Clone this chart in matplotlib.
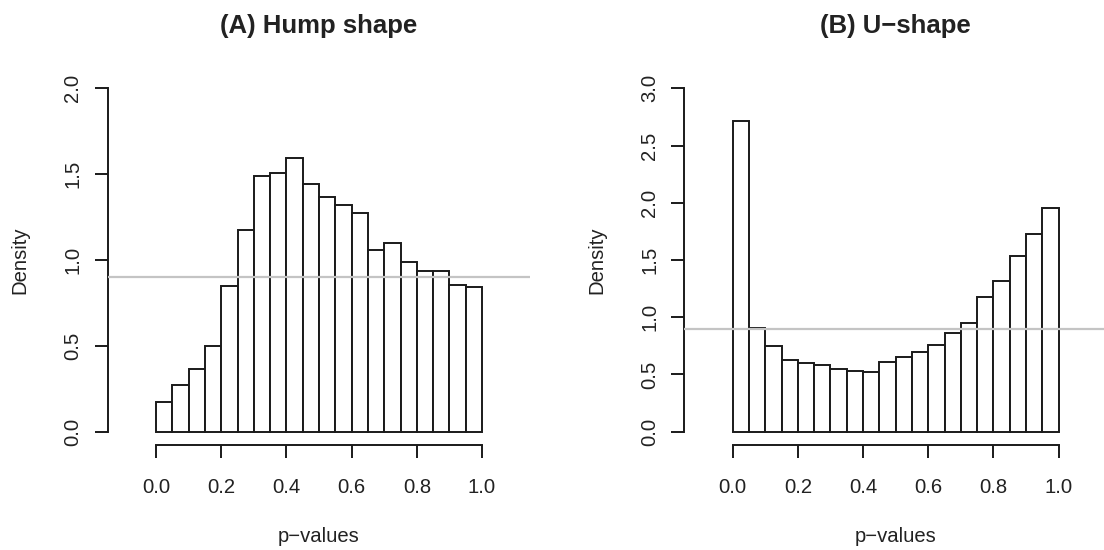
import numpy as np
import matplotlib
matplotlib.use("Agg")
import matplotlib.pyplot as plt

plt.rcParams['font.family'] = ['Liberation Sans', 'DejaVu Sans']

# ---- data ----
bin_edges = [round(0.05 * i, 2) for i in range(21)]
hump_density = [0.175, 0.272, 0.367, 0.497, 0.850, 1.175, 1.487, 1.505, 1.592, 1.443,
                1.367, 1.322, 1.272, 1.056, 1.101, 0.986, 0.938, 0.934, 0.852, 0.843]
ushape_density = [2.717, 0.909, 0.749, 0.626, 0.600, 0.585, 0.551, 0.527, 0.524, 0.612,
                  0.652, 0.699, 0.754, 0.865, 0.950, 1.180, 1.320, 1.538, 1.727, 1.957]
ref_line = 0.9
titles = ["(A) Hump shape", "(B) U\u2212shape"]
xlabel = "p\u2212values"
ylabel = "Density"
x_ticks = [0.0, 0.2, 0.4, 0.6, 0.8, 1.0]
y_ticks_a = [0.0, 0.5, 1.0, 1.5, 2.0]
y_ticks_b = [0.0, 0.5, 1.0, 1.5, 2.0, 2.5, 3.0]

W, H = 1104, 550
fig = plt.figure(figsize=(W / 100, H / 100), dpi=100)

TXT = '#222222'
LW = 1.4
FS = 14.6

def panel(left_px, heights, yticks, title):
    bottom_px, top_px = 445.4, 74.6
    width_px = 422.5
    ax = fig.add_axes([left_px / W, 1 - bottom_px / H, width_px / W, (bottom_px - top_px) / H])
    ymax = yticks[-1]
    ax.set_xlim(-0.148, 1.148)
    ax.set_ylim(-0.04 * ymax, ymax * 1.04)
    lefts = bin_edges[:-1]
    widths = [b - a for a, b in zip(bin_edges[:-1], bin_edges[1:])]
    ax.bar(lefts, heights, width=widths, align='edge', facecolor='white',
           edgecolor='#1a1a1a', linewidth=LW, zorder=2)
    ax.axhline(ref_line, color='#c4c4c4', linewidth=1.6, zorder=3)
    for s in ['top', 'right']:
        ax.spines[s].set_visible(False)
    ax.spines['left'].set_bounds(0, ymax)
    ax.spines['bottom'].set_bounds(0, 1)
    for s in ['left', 'bottom']:
        ax.spines[s].set_linewidth(LW)
        ax.spines[s].set_color('#1a1a1a')
    ax.set_xticks(x_ticks)
    ax.set_xticklabels([f"{v:.1f}" for v in x_ticks])
    ax.set_yticks(yticks)
    ax.set_yticklabels([f"{v:.1f}" for v in yticks])
    ax.tick_params(axis='both', length=9.1, width=LW, color='#1a1a1a',
                   labelsize=FS, labelcolor=TXT)
    ax.tick_params(axis='x', pad=25.2)
    ax.tick_params(axis='y', pad=12.0)
    for lab in ax.get_xticklabels():
        lab.set_va('baseline')
    for lab in ax.get_yticklabels():
        lab.set_rotation(90)
        lab.set_rotation_mode('anchor')
        lab.set_ha('center')
        lab.set_va('baseline')
    cx = (left_px + width_px / 2) / W
    fig.text(cx, 1 - 33 / H, title, ha='center', va='baseline',
             fontsize=18.5, fontweight='bold', color=TXT)
    fig.text(cx, 1 - 541.5 / H, xlabel, ha='center', va='baseline',
             fontsize=FS, color=TXT)
    fig.text((left_px - 82.5) / W, 1 - 260 / H, ylabel, rotation=90,
             rotation_mode='anchor', ha='center', va='baseline',
             fontsize=FS, color=TXT)
    return ax

panel(107.8, hump_density, y_ticks_a, titles[0])
panel(684.4, ushape_density, y_ticks_b, titles[1])

fig.savefig('out.png', dpi=100)
